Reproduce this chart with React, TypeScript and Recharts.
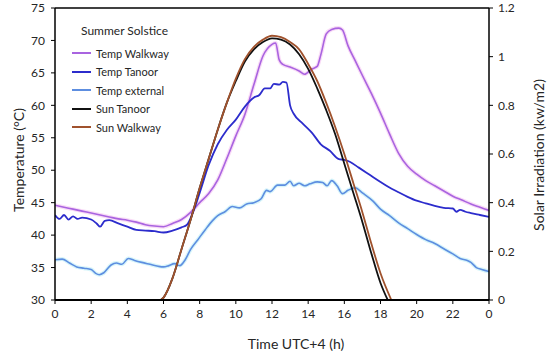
import React from 'react';
import { LineChart, Line, XAxis, YAxis, Legend, ReferenceLine } from 'recharts';

// hours of the day (UTC+4) and readings for each series
const walkwayHours = [0, 0.5, 1, 1.5, 2, 2.5, 3, 3.5, 4, 4.5, 5, 5.5, 6, 6.5, 7, 7.5, 8, 8.5, 9, 9.5, 10, 10.5, 11, 11.5, 12, 12.2, 12.4, 12.6, 13, 13.5, 13.8, 14.2, 14.5, 14.7, 15, 15.3, 15.7, 15.9, 16.2, 16.6, 17, 17.5, 18, 18.5, 19, 19.5, 20, 20.5, 21, 21.5, 22, 22.5, 23, 23.5, 24];
const walkwayTemp = [44.6, 44.3, 44.0, 43.7, 43.4, 43.1, 42.8, 42.5, 42.3, 42.0, 41.6, 41.4, 41.3, 41.8, 42.4, 43.5, 45.0, 46.4, 48.5, 51.8, 55.3, 58.6, 63.2, 67.6, 69.4, 69.6, 67.0, 66.3, 65.9, 65.3, 64.8, 65.6, 66.0, 67.8, 71.0, 71.7, 71.9, 71.6, 69.2, 66.9, 64.6, 61.8, 58.8, 55.6, 52.6, 50.6, 49.4, 48.4, 47.6, 46.8, 46.0, 45.4, 44.8, 44.3, 43.8];

const tanoorHours = [0, 0.25, 0.5, 0.75, 1, 1.25, 1.5, 2, 2.3, 2.5, 2.75, 3, 3.5, 4, 4.5, 5, 5.5, 6, 6.5, 7, 7.3, 7.6, 8, 8.5, 9, 9.5, 10, 10.5, 11, 11.3, 11.6, 11.9, 12.1, 12.4, 12.6, 12.8, 13, 13.2, 13.7, 14.2, 14.7, 15.2, 15.7, 16, 16.3, 16.8, 17.4, 18, 18.4, 19, 19.5, 20, 20.5, 21, 21.5, 22, 22.2, 22.4, 22.7, 23, 23.5, 24];
const tanoorTemp = [43.1, 42.5, 43.1, 42.4, 42.9, 42.5, 42.7, 42.4, 41.8, 41.3, 42.2, 42.3, 41.8, 41.3, 40.8, 40.7, 40.6, 40.4, 40.7, 41.2, 41.6, 43.3, 46.5, 50.8, 54.0, 56.2, 57.8, 59.8, 61.2, 61.6, 62.6, 62.6, 63.3, 63.2, 63.6, 63.5, 60.0, 58.7, 57.2, 55.8, 54.0, 53.0, 51.7, 51.6, 51.3, 50.4, 49.3, 48.2, 47.5, 46.6, 45.9, 45.3, 44.9, 44.5, 44.2, 44.1, 43.6, 43.9, 43.6, 43.4, 43.1, 42.8];

const externalHours = [0, 0.4, 0.8, 1.2, 1.6, 2, 2.25, 2.45, 2.7, 3.1, 3.4, 3.7, 4.05, 4.4, 4.8, 5.25, 5.7, 6, 6.3, 6.6, 6.9, 7.2, 7.5, 7.9, 8.3, 8.7, 9, 9.4, 9.8, 10.2, 10.6, 11, 11.4, 11.7, 11.9, 12.3, 12.7, 13, 13.2, 13.5, 13.8, 14.1, 14.5, 14.8, 15.05, 15.3, 15.6, 15.9, 16.2, 16.6, 17, 17.6, 18, 18.5, 19, 19.5, 20, 20.5, 21, 21.5, 22, 22.4, 22.8, 23, 23.3, 23.6, 24];
const externalTemp = [36.2, 36.3, 35.7, 35.1, 34.9, 34.7, 34.1, 33.9, 34.2, 35.4, 35.7, 35.5, 36.4, 36.1, 35.8, 35.5, 35.2, 35.1, 35.3, 35.6, 35.3, 36.2, 37.8, 39.3, 40.8, 42.2, 43.0, 43.6, 44.4, 44.2, 44.8, 45.0, 45.6, 46.9, 46.7, 47.7, 47.7, 48.3, 47.6, 48.0, 47.6, 47.9, 48.2, 48.1, 47.6, 48.4, 47.6, 46.4, 46.9, 47.3, 46.5, 45.2, 44.0, 43.0, 41.9, 41.0, 40.1, 39.3, 38.7, 37.9, 37.1, 36.4, 36.1, 35.8, 35.0, 34.7, 34.4];

const sunTanoorHours = [5.85, 6, 6.5, 7, 7.5, 8, 8.5, 9, 9.5, 10, 10.5, 11, 11.5, 12, 12.5, 13, 13.5, 14, 14.5, 15, 15.5, 16, 16.5, 17, 17.5, 18, 18.4];
const sunTanoor = [0, 0.01, 0.09, 0.21, 0.33, 0.46, 0.58, 0.70, 0.81, 0.90, 0.98, 1.03, 1.06, 1.075, 1.07, 1.05, 1.01, 0.95, 0.87, 0.78, 0.68, 0.56, 0.44, 0.32, 0.19, 0.07, 0];

const sunWalkwayHours = [5.85, 6, 6.5, 7, 7.5, 8, 8.5, 9, 9.5, 10, 10.5, 11, 11.5, 12, 12.5, 13, 13.5, 14, 14.5, 15, 15.5, 16, 16.5, 17, 17.5, 18, 18.6];
const sunWalkway = [0, 0.01, 0.09, 0.21, 0.33, 0.46, 0.58, 0.70, 0.81, 0.91, 0.99, 1.04, 1.07, 1.086, 1.08, 1.06, 1.03, 0.97, 0.90, 0.81, 0.71, 0.60, 0.48, 0.36, 0.23, 0.11, 0];

const hourTicks = [0, 2, 4, 6, 8, 10, 12, 14, 16, 18, 20, 22, 24];
const tempTicks = [30, 35, 40, 45, 50, 55, 60, 65, 70, 75];
const sunTicks = [0, 0.2, 0.4, 0.6, 0.8, 1, 1.2];

const FONT = 'Lato, "Open Sans", sans-serif';
const INK = '#262626';

const COLORS = {
    walkway: '#a964e0',
    tanoor: '#2c2ccc',
    external: '#5d8ee0',
    sunTanoor: '#111111',
    sunWalkway: '#a0522d',
};

// legend order as in the figure
const legendItems = [
    { name: 'Temp Walkway', color: COLORS.walkway },
    { name: 'Temp Tanoor', color: COLORS.tanoor },
    { name: 'Temp external', color: COLORS.external },
    { name: 'Sun Tanoor', color: COLORS.sunTanoor },
    { name: 'Sun Walkway', color: COLORS.sunWalkway },
];

const toPoints = (hours: number[], values: number[]) => hours.map((t, i) => ({ t, v: values[i] }));

const renderLegend = () => (
    <div style={{ fontFamily: FONT, color: INK }}>
        <div style={{ fontSize: 12, marginLeft: 9, marginBottom: 6 }}>Summer Solstice</div>
        {legendItems.map(item => (
            <div key={item.name} style={{ display: 'flex', alignItems: 'center', height: 18.5, fontSize: 11 }}>
                <span style={{ display: 'inline-block', width: 19, borderTop: `2px solid ${item.color}`, marginRight: 5 }} />
                {item.name}
            </div>
        ))}
    </div>
);

const VerticalTitle = ({ viewBox, text, cx, cy }: any) => {
    const x = cx ?? viewBox.x + viewBox.width / 2;
    const y = cy ?? viewBox.y + viewBox.height / 2;
    return (
        <text x={x} y={y} transform={`rotate(-90 ${x} ${y})`} textAnchor="middle" dominantBaseline="central"
            style={{ fontFamily: FONT, fontSize: 14, fill: INK }}>
            {text}
        </text>
    );
};

const BottomTitle = ({ viewBox }: any) => (
    <text x={296} y={viewBox.y + viewBox.height - 5} textAnchor="middle"
        style={{ fontFamily: FONT, fontSize: 14, fill: INK }}>
        Time UTC+4 (h)
    </text>
);

const App: React.FC = () => {
    const tick = { fill: INK, fontSize: 12, fontFamily: FONT };
    const lineProps = { dataKey: 'v', dot: false, activeDot: false, isAnimationActive: false, type: 'monotone' as const };

    return (
        <div style={{ position: 'absolute', left: 0, top: 0, width: 550, height: 354, background: '#fff' }}>
            <LineChart width={550} height={354} margin={{ top: 8, right: 0, bottom: 0, left: 0 }}>
                <XAxis dataKey="t" type="number" domain={[0, 24]} ticks={hourTicks} interval={0}
                    tickFormatter={(v: number) => String(v % 24)} height={54} tick={tick}
                    tickMargin={5} tickSize={4} stroke="#000" axisLine={{ stroke: '#000', strokeWidth: 2 }}
                    label={<BottomTitle />} allowDataOverflow />
                <YAxis yAxisId="left" domain={[30, 75]} ticks={tempTicks} interval={0} width={55} tick={tick}
                    tickMargin={6} tickSize={4} stroke="#000" axisLine={{ stroke: '#000', strokeWidth: 1.5 }}
                    label={<VerticalTitle text="Temperature (°C)" cx={18} cy={160} />} allowDataOverflow />
                <YAxis yAxisId="right" orientation="right" domain={[0, 1.2]} ticks={sunTicks} interval={0}
                    width={61} tick={tick} tickMargin={5} tickSize={4} stroke="#000"
                    axisLine={{ stroke: '#000', strokeWidth: 1.5 }}
                    label={<VerticalTitle text="Solar Irradiation (kw/m2)" cx={538} cy={155} />} allowDataOverflow />
                <ReferenceLine yAxisId="left" y={75} stroke="#000" strokeWidth={1.5} />

                {/* faint halos behind the lighter lines */}
                <Line {...lineProps} data={toPoints(walkwayHours, walkwayTemp)} yAxisId="left"
                    stroke="#f9dcf7" strokeWidth={4} legendType="none" name="walkway-halo" />
                <Line {...lineProps} data={toPoints(externalHours, externalTemp)} yAxisId="left"
                    stroke="#d8f5fa" strokeWidth={4} legendType="none" name="external-halo" />

                <Line {...lineProps} data={toPoints(walkwayHours, walkwayTemp)} yAxisId="left"
                    stroke={COLORS.walkway} strokeWidth={1.6} name="Temp Walkway" />
                <Line {...lineProps} data={toPoints(tanoorHours, tanoorTemp)} yAxisId="left"
                    stroke={COLORS.tanoor} strokeWidth={1.8} name="Temp Tanoor" />
                <Line {...lineProps} data={toPoints(externalHours, externalTemp)} yAxisId="left"
                    stroke={COLORS.external} strokeWidth={1.6} name="Temp external" />
                <Line {...lineProps} data={toPoints(sunTanoorHours, sunTanoor)} yAxisId="right"
                    stroke={COLORS.sunTanoor} strokeWidth={1.8} name="Sun Tanoor" />
                <Line {...lineProps} data={toPoints(sunWalkwayHours, sunWalkway)} yAxisId="right"
                    stroke={COLORS.sunWalkway} strokeWidth={1.8} name="Sun Walkway" />

                <Legend layout="vertical" align="center" verticalAlign="middle" content={renderLegend}
                    wrapperStyle={{ left: 72, top: 23, width: 130, height: 'auto' }} />
            </LineChart>
        </div>
    );
};

export default App;
